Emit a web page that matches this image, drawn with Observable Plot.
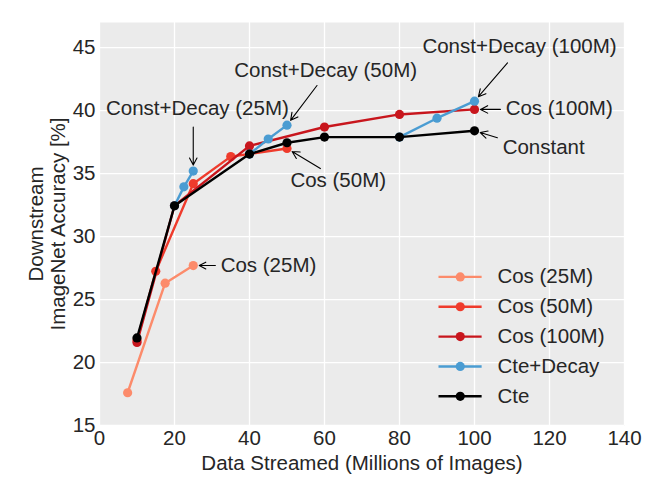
<!DOCTYPE html>
<html><head><meta charset="utf-8">
<script src="https://cdn.jsdelivr.net/npm/d3@7"></script>
<script src="https://cdn.jsdelivr.net/npm/@observablehq/plot@0.6"></script>
<style>body{margin:0;background:#fff}</style>
</head><body><div id="chart"></div>
<script>
// ---- data ----
const seriesNames = ["Cos (25M)", "Cos (50M)", "Cos (100M)", "Cte+Decay", "Cte"];
const seriesColors = ["#fc8b6b", "#ef3b2c", "#c8161d", "#4a9cd2", "#000000"];

const cos25X = [7.5, 17.5, 25];
const cos25Y = [17.6, 26.3, 27.7];
const cos50X = [10, 15, 25, 35, 50];
const cos50Y = [21.75, 27.25, 34.2, 36.35, 37.0];
const cos100X = [10, 20, 40, 60, 80, 100];
const cos100Y = [21.6, 32.45, 37.2, 38.7, 39.7, 40.1];
const decayRun = ["25M", "25M", "25M", "50M", "50M", "50M", "100M", "100M", "100M"];
const decayX = [20, 22.5, 25, 40, 45, 50, 80, 90, 100];
const decayY = [32.45, 33.95, 35.2, 36.55, 37.75, 38.85, 37.9, 39.4, 40.75];
const cteX = [10, 20, 40, 50, 60, 80, 100];
const cteY = [21.95, 32.45, 36.55, 37.45, 37.9, 37.9, 38.4];

const xTicks = [0, 20, 40, 60, 80, 100, 120, 140];
const yTicks = [15, 20, 25, 30, 35, 40, 45];

// annotations: label, text position, arrow start -> target point
const annLabels = ["Const+Decay (25M)", "Const+Decay (50M)", "Const+Decay (100M)", "Cos (100M)", "Constant", "Cos (50M)", "Cos (25M)"];
const annAnchor = ["middle", "middle", "middle", "start", "start", "start", "start"];
const annTextX = [26.1, 60.3, 112.0, 108.3, 107.5, 50.9, 32.3];
const annTextY = [40.2, 43.2, 45.1, 40.15, 37.1, 34.45, 27.7];
const annFromX = [25, 58.0, 108.8, 106.9, 106.1, 58.9, 30.9];
const annFromY = [38.7, 42.0, 43.8, 40.1, 37.85, 35.4, 27.7];
const annToX = [25, 50, 100, 100, 100, 50, 25];
const annToY = [35.2, 38.85, 40.75, 40.1, 38.4, 37.0, 27.7];

// ---- tables ----
const mk = (name, xs, ys, runs) => xs.map((x, i) => ({series: name, run: runs ? runs[i] : name, x, y: ys[i]}));
const rows = [
  mk(seriesNames[0], cos25X, cos25Y),
  mk(seriesNames[1], cos50X, cos50Y),
  mk(seriesNames[2], cos100X, cos100Y),
  mk(seriesNames[3], decayX, decayY, decayRun),
  mk(seriesNames[4], cteX, cteY)
];
const ann = annLabels.map((label, i) => ({label, anchor: annAnchor[i], tx: annTextX[i], ty: annTextY[i], x1: annFromX[i], y1: annFromY[i], x2: annToX[i], y2: annToY[i]}));
const legend = seriesNames.map((name, i) => ({name, color: seriesColors[i], y: 26.8 - i * 2.37}));

const font = "'Liberation Sans', Arial, Helvetica, sans-serif";
const txt = "#262626";
const fs = 20.5;

const seriesMarks = rows.flatMap((data, i) => [
  Plot.line(data, {x: "x", y: "y", z: "run", stroke: seriesColors[i], strokeWidth: 2.4}),
  Plot.dot(data, {x: "x", y: "y", r: 4.6, fill: seriesColors[i], stroke: "none"})
]);

const chart = Plot.plot({
  width: 664, height: 498,
  marginLeft: 99, marginRight: 40, marginTop: 22, marginBottom: 73,
  style: {fontFamily: font, fontSize: fs + "px", background: "#fff", color: txt, overflow: "visible"},
  x: {domain: [0, 140], label: null},
  y: {domain: [15, 47], label: null},
  marks: [
    Plot.frame({fill: "#ebebeb", stroke: null}),
    Plot.gridX(xTicks, {stroke: "#fff", strokeOpacity: 1, strokeWidth: 1.3}),
    Plot.gridY(yTicks, {stroke: "#fff", strokeOpacity: 1, strokeWidth: 1.3}),
    Plot.axisX(xTicks, {tickSize: 0, tickPadding: 5, fontSize: fs, fill: txt, label: null}),
    Plot.axisY(yTicks, {tickSize: 0, tickPadding: 4, fontSize: fs, fill: txt, label: null}),
    ...seriesMarks,
    Plot.arrow(ann, {x1: "x1", y1: "y1", x2: "x2", y2: "y2", stroke: "#000", strokeWidth: 1.1, bend: 0, headLength: 11, headAngle: 55, insetEnd: 6}),
    Plot.text(ann.filter(d => d.anchor === "middle"), {x: "tx", y: "ty", text: "label", textAnchor: "middle", fontSize: fs, fill: txt}),
    Plot.text(ann.filter(d => d.anchor === "start"), {x: "tx", y: "ty", text: "label", textAnchor: "start", fontSize: fs, fill: txt}),
    // legend
    Plot.link(legend, {x1: 90.4, x2: 101.9, y1: "y", y2: "y", stroke: "color", strokeWidth: 2.4}),
    Plot.dot(legend, {x: 96.2, y: "y", r: 4.6, fill: "color", stroke: "none"}),
    Plot.text(legend, {x: 106.1, y: "y", text: "name", textAnchor: "start", fontSize: fs, fill: txt}),
    // axis titles
    Plot.text(["Data Streamed (Millions of Images)"], {frameAnchor: "bottom", dy: 38, fontSize: fs, fill: txt, textAnchor: "middle", lineAnchor: "middle"}),
    Plot.text(["Downstream\nImageNet Accuracy [%]"], {frameAnchor: "left", rotate: -90, dx: -53, fontSize: fs, fill: txt, textAnchor: "middle", lineAnchor: "middle", lineHeight: 1.08})
  ]
});
document.getElementById("chart").appendChild(chart);
</script>
</body></html>
